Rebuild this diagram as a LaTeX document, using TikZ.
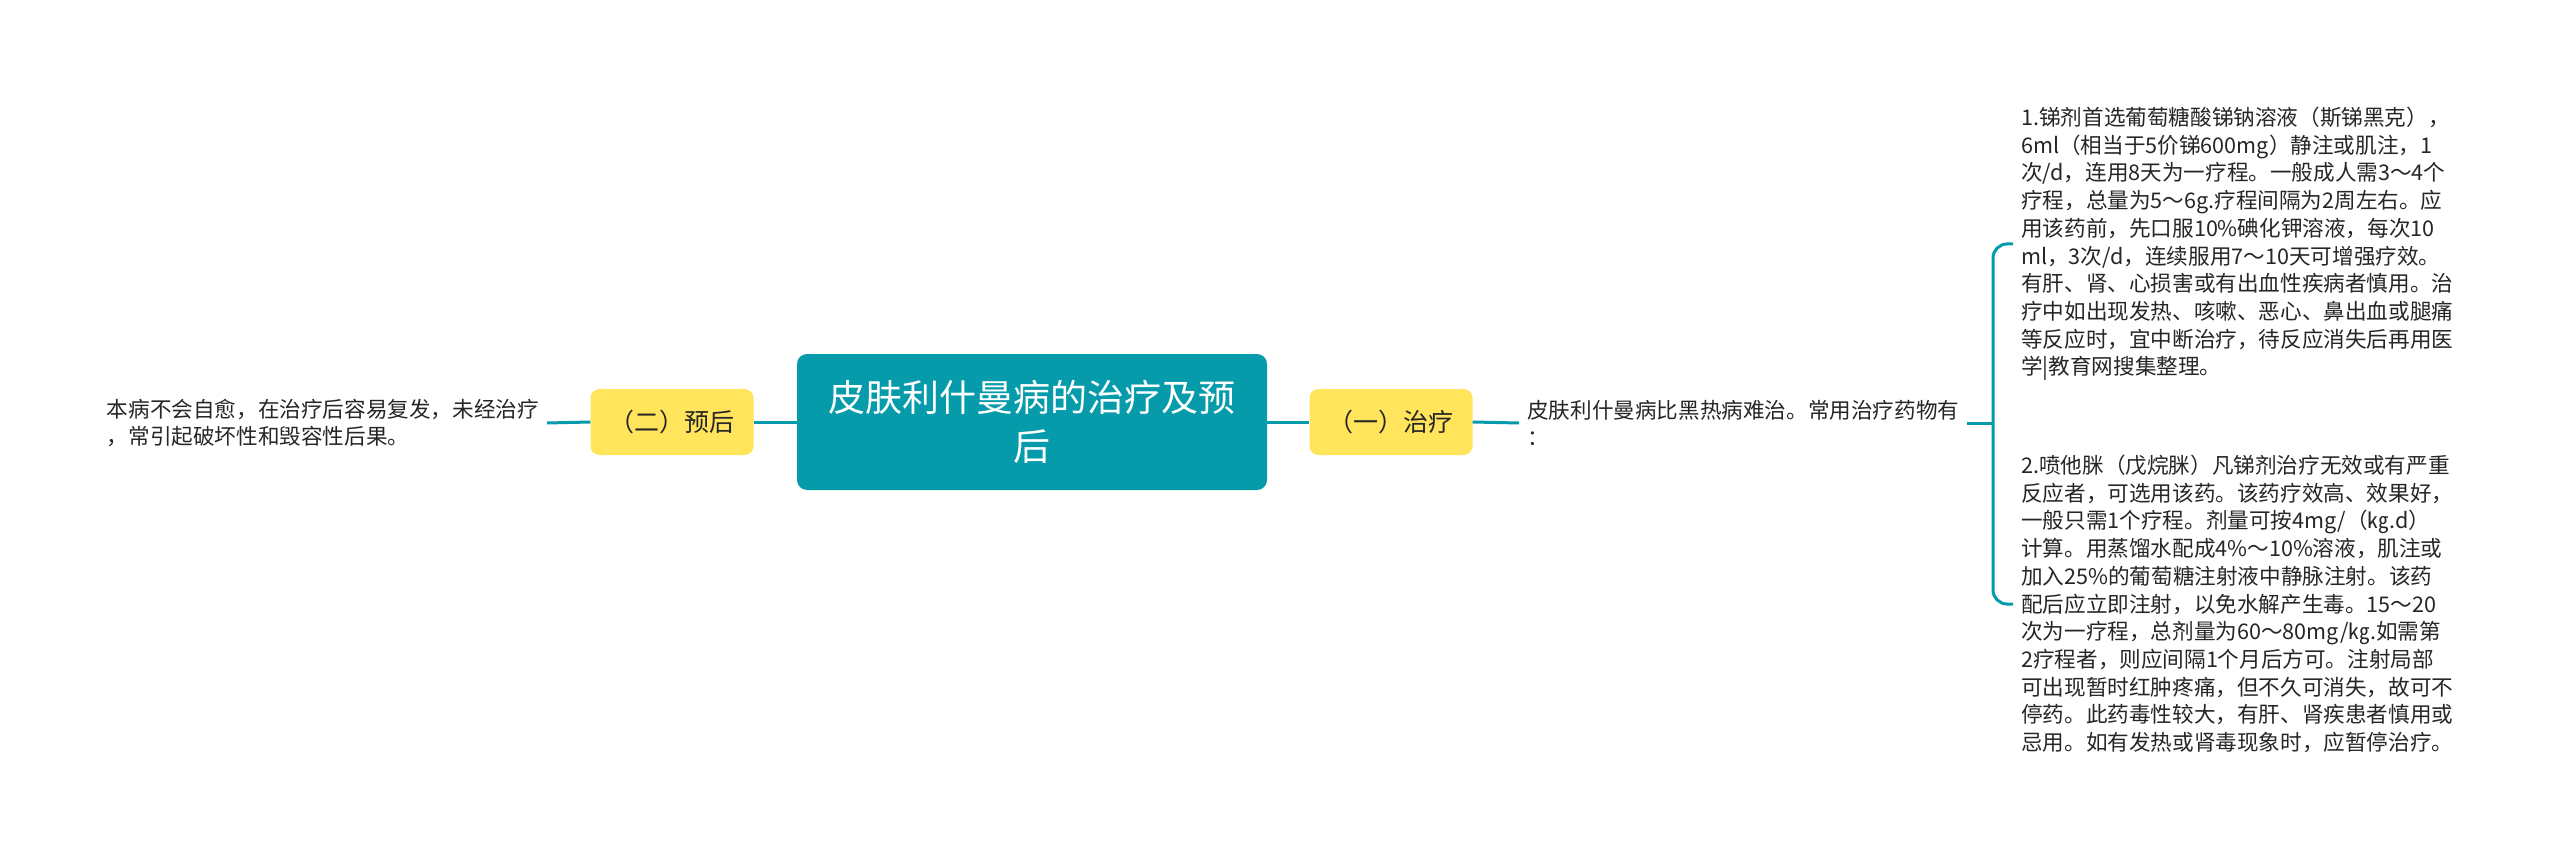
\documentclass[tikz,border=0pt]{standalone}
\usepackage{fontspec}
\setmainfont{Noto Sans CJK SC}
\definecolor{teal1}{RGB}{5,155,171}
\definecolor{yel}{RGB}{255,228,92}
\definecolor{txt}{RGB}{38,38,38}
\begin{document}
\begin{tikzpicture}[x=1pt,y=-1pt,
  leaf/.style={font=\fontsize{21.6}{27.7}\selectfont, text=txt, align=left, inner xsep=8pt, inner ysep=0pt},
  conn/.style={draw=teal1, line width=3pt},
  subbox/.style={fill=yel, rounded corners=9pt, minimum width=163pt, minimum height=66pt, font=\fontsize{25}{30}\selectfont, text=txt},
  rootbox/.style={fill=teal1, rounded corners=10pt, minimum width=470pt, minimum height=136pt, text=white, font=\fontsize{37}{49}\selectfont, align=center}]
\fill[white] (0,0) rectangle (2560,861);
\useasboundingbox (0,0) rectangle (2560,861);
\node[rootbox] (root) at (1032,422) {皮肤利什曼病的治疗及预\\后};
\node[subbox] (yh) at (672,422) {（二）预后};
\node[subbox] (zl) at (1391,422) {（一）治疗};
\node[leaf, anchor=east] (lt) at (547,423) {本病不会自愈，在治疗后容易复发，未经治疗\\，常引起破坏性和毁容性后果。};
\node[leaf, anchor=west] (mt) at (1519,423) {皮肤利什曼病比黑热病难治。常用治疗药物有\\：};
\node[leaf, anchor=west] (t1) at (2013,244) {1.锑剂首选葡萄糖酸锑钠溶液（斯锑黑克），\\
6ml（相当于5价锑600mg）静注或肌注，1\\
次/d，连用8天为一疗程。一般成人需3～4个\\
疗程，总量为5～6g.疗程间隔为2周左右。应\\
用该药前，先口服10\%碘化钾溶液，每次10\\
ml，3次/d，连续服用7～10天可增强疗效。\\
有肝、肾、心损害或有出血性疾病者慎用。治\\
疗中如出现发热、咳嗽、恶心、鼻出血或腿痛\\
等反应时，宜中断治疗，待反应消失后再用医\\
学|教育网搜集整理。};
\node[leaf, anchor=west] (t2) at (2013,604) {2.喷他脒（戊烷脒）凡锑剂治疗无效或有严重\\
反应者，可选用该药。该药疗效高、效果好，\\
一般只需1个疗程。剂量可按4mg/（㎏.d）\\
计算。用蒸馏水配成4\%～10\%溶液，肌注或\\
加入25\%的葡萄糖注射液中静脉注射。该药\\
配后应立即注射，以免水解产生毒。15～20\\
次为一疗程，总剂量为60～80mg/㎏.如需第\\
2疗程者，则应间隔1个月后方可。注射局部\\
可出现暂时红肿疼痛，但不久可消失，故可不\\
停药。此药毒性较大，有肝、肾疾患者慎用或\\
忌用。如有发热或肾毒现象时，应暂停治疗。};
\coordinate (bx) at (1993,423);
\draw[conn] (lt.east) -- (yh.west);
\draw[conn] (yh.east) -- (root.west);
\draw[conn] (root.east) -- (zl.west);
\draw[conn] (zl.east) -- (mt.west);
\draw[conn] (mt.east) -- (bx);
\draw[conn, rounded corners=14pt] (t1.west) -| (bx) |- (t2.west);
\end{tikzpicture}
\end{document}
